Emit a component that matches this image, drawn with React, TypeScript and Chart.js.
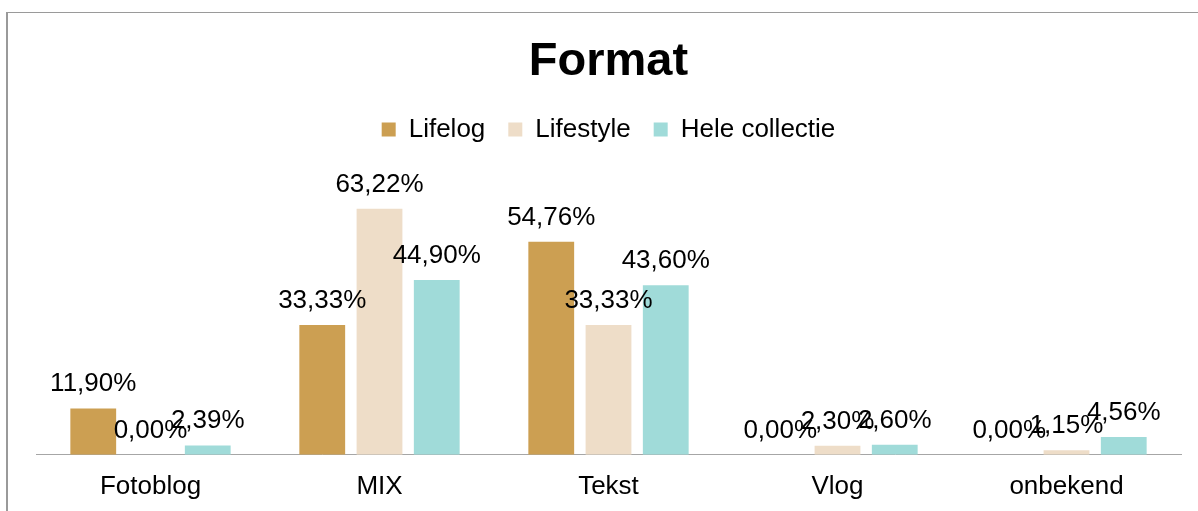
import React, { useEffect, useRef } from "react";
import { Chart, registerables } from "chart.js";

Chart.register(...registerables);

const categories = ["Fotoblog", "MIX", "Tekst", "Vlog", "onbekend"];
const lifelog = [11.9, 33.33, 54.76, 0.0, 0.0];
const lifestyle = [0.0, 63.22, 33.33, 2.3, 1.15];
const heleCollectie = [2.39, 44.9, 43.6, 2.6, 4.56];
const seriesNames = ["Lifelog", "Lifestyle", "Hele collectie"];
const seriesColors = ["#CC9F52", "#EEDDC8", "#A0DBD9"];
const yMin = 0;
const yMax = 70;

const FONT = "'Liberation Sans', Arial, Helvetica, sans-serif";

const fmt = (v: number) => v.toFixed(2).replace(".", ",") + "%";

const framePlugin = {
  id: "frame",
  beforeDraw(chart: any) {
    const ctx = chart.ctx;
    ctx.save();
    ctx.fillStyle = "#ffffff";
    ctx.fillRect(0, 0, chart.width, chart.height);
    ctx.fillStyle = "#9a9a9a";
    ctx.fillRect(6, 12, 2, chart.height - 12);
    ctx.fillRect(6, 12, chart.width - 6, 1);
    ctx.restore();
  },
};

const legendSpacePlugin = {
  id: "legendSpace",
  beforeLayout(chart: any) {
    const lg: any = chart.legend;
    if (lg && !lg._extraSpace) {
      const orig = lg.fit;
      lg.fit = function () {
        orig.call(this);
        this.height += 30;
      };
      lg._extraSpace = true;
    }
  },
};

const dataLabelPlugin = {
  id: "dataLabels",
  afterDatasetsDraw(chart: any) {
    const ctx = chart.ctx;
    ctx.save();
    ctx.font = `26px ${FONT}`;
    ctx.fillStyle = "#000000";
    ctx.textAlign = "center";
    ctx.textBaseline = "alphabetic";
    chart.data.datasets.forEach((ds: any, i: number) => {
      const meta = chart.getDatasetMeta(i);
      meta.data.forEach((bar: any, j: number) => {
        ctx.fillText(fmt(ds.data[j] as number), bar.x, bar.y - 17);
      });
    });
    ctx.restore();
  },
};

export default function App() {
  const ref = useRef<HTMLCanvasElement>(null);

  useEffect(() => {
    const seriesData = [lifelog, lifestyle, heleCollectie];
    const chart = new Chart(ref.current as HTMLCanvasElement, {
      type: "bar",
      data: {
        labels: categories,
        datasets: seriesNames.map((name, i) => ({
          label: name,
          data: seriesData[i],
          backgroundColor: seriesColors[i],
          borderColor: seriesColors[i],
          borderWidth: 0,
        })),
      },
      options: {
        responsive: false,
        animation: false,
        devicePixelRatio: 1,
        layout: { padding: { left: 36, right: 38, top: 0, bottom: 12 } },
        datasets: { bar: { categoryPercentage: 0.75, barPercentage: 0.8 } },
        plugins: {
          title: {
            display: true,
            text: "Format",
            color: "#000000",
            font: { family: FONT, size: 47, weight: "bold" },
            padding: { top: 34, bottom: 3 },
          },
          legend: {
            display: true,
            position: "top",
            labels: {
              color: "#000000",
              font: { family: FONT, size: 26 },
              boxWidth: 14,
              boxHeight: 14,
              padding: 23,
            },
          },
          tooltip: { enabled: false },
        },
        scales: {
          x: {
            grid: { display: false, drawTicks: false },
            border: { display: true, color: "#a6a6a6", width: 1 },
            ticks: { color: "#000000", font: { family: FONT, size: 26 }, padding: 16 },
          },
          y: { display: false, min: yMin, max: yMax },
        },
      } as any,
      plugins: [framePlugin, legendSpacePlugin, dataLabelPlugin],
    });
    return () => chart.destroy();
  }, []);

  return (
    <div
      style={{
        position: "fixed",
        left: 0,
        top: 0,
        width: 1198,
        height: 511,
        overflow: "hidden",
        background: "#ffffff",
      }}
    >
      <canvas ref={ref} width={1219} height={530} style={{ display: "block" }} />
    </div>
  );
}
